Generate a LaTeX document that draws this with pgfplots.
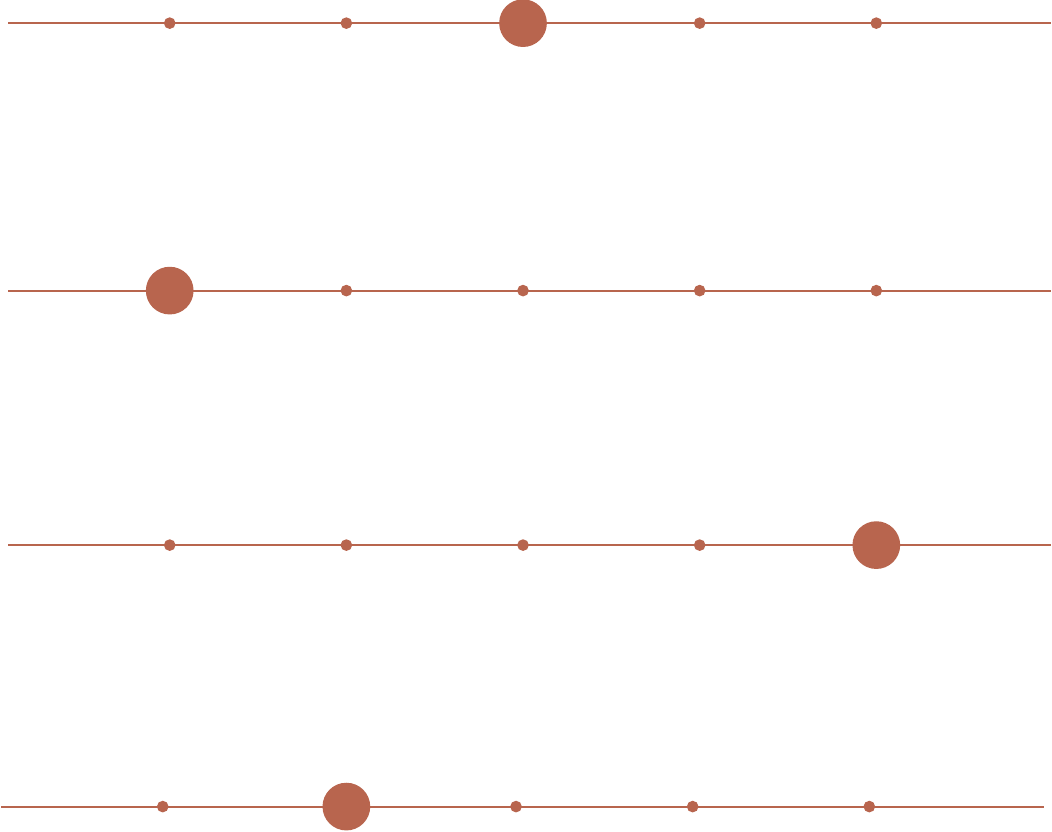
\documentclass[border=0pt]{standalone}
\usepackage{pgfplots}
\pgfplotsset{compat=1.18}
\definecolor{dotred}{HTML}{B8654E}
\begin{document}
\begin{tikzpicture}
\begin{axis}[
    scale only axis,
    width=10.52cm, height=8.33cm,
    xmin=0, xmax=1052, ymin=0, ymax=833,
    y dir=reverse,
    hide axis,
    clip=false,
    ]
% row lines
\addplot[dotred, line width=0.6pt] coordinates {(7,23) (1052,23)};
\addplot[dotred, line width=0.6pt] coordinates {(7,291) (1052,291)};
\addplot[dotred, line width=0.6pt] coordinates {(7,546) (1052,546)};
\addplot[dotred, line width=0.6pt] coordinates {(0,808) (1045,808)};
% small dots
\addplot[only marks, mark=*, mark size=1.45pt, color=dotred] coordinates {
  (169,23) (346,23) (700,23) (877,23)
  (346,291) (523,291) (700,291) (877,291)
  (169,546) (346,546) (523,546) (700,546)
  (162,808) (516,808) (693,808) (870,808)
};
% large dots
\addplot[only marks, mark=*, mark size=6.6pt, color=dotred] coordinates {
  (523,23) (169,291) (877,546) (346,808)
};
\path (rel axis cs:0,0) (rel axis cs:1,1);
\end{axis}
\end{tikzpicture}
\end{document}
